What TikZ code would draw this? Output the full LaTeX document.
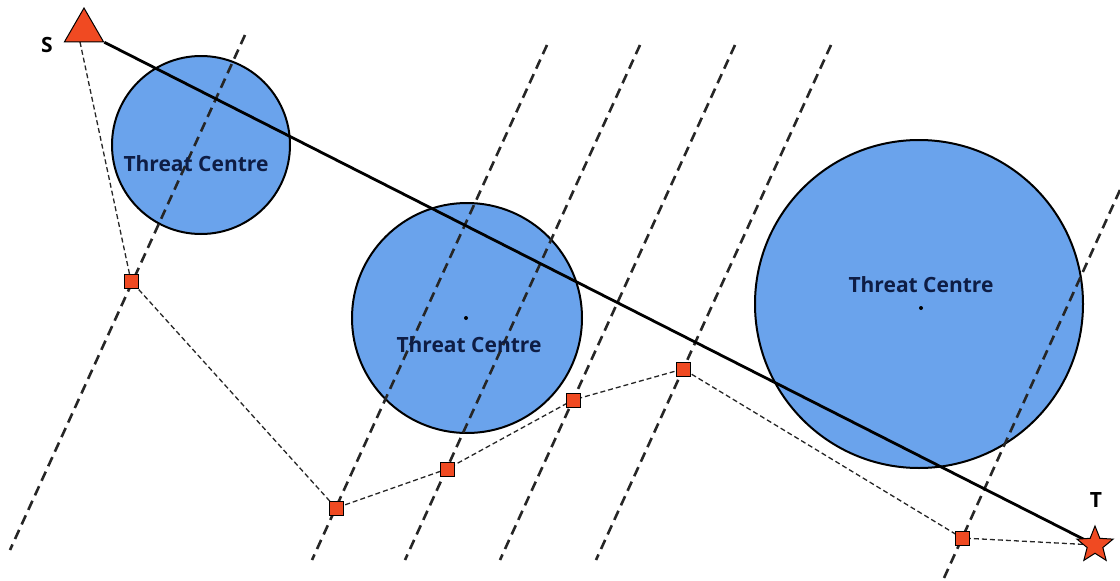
\documentclass[tikz,border=0pt]{standalone}
\usepackage{fontspec}
\setmainfont{Open Sans}
\usetikzlibrary{shapes.geometric}
\pgfdeclarelayer{bottom}
\pgfdeclarelayer{middle}
\pgfsetlayers{bottom,middle,main}
\definecolor{threatblue}{HTML}{6AA3EC}
\definecolor{markred}{HTML}{F04A22}
\definecolor{navytext}{HTML}{0E1D45}
\tikzset{
  threat/.style={circle, draw=black, line width=2pt, fill=threatblue, inner sep=0pt},
  threatlabel/.style={font=\fontsize{21}{23}\selectfont\bfseries, text=navytext, inner sep=0pt},
  guide/.style={draw=black!85, line width=2.6pt, dash pattern=on 10pt off 6pt},
  route/.style={draw=black!85, line width=1.3pt, dash pattern=on 5pt off 3pt},
  mainline/.style={draw=black, line width=2.8pt},
  waypt/.style={rectangle, draw=black, line width=1pt, fill=markred, minimum size=14pt, inner sep=0pt},
  startmark/.style={regular polygon, regular polygon sides=3, draw=black, line width=1pt, fill=markred, minimum size=45pt, inner sep=0pt},
  goalmark/.style={star, star points=5, star point ratio=2.3, draw=black, line width=1pt, fill=markred, minimum size=38pt, inner sep=0pt},
  endlabel/.style={font=\fontsize{21}{23}\selectfont\bfseries, text=black, inner sep=0pt},
  cdot/.style={circle, fill=black, minimum size=4pt, inner sep=0pt}
}
\begin{document}
\begin{tikzpicture}[x=1pt, y=-1pt]
\useasboundingbox (0,0) rectangle (1120,581);
% markers (main layer, on top)
\node[startmark] (S) at (84,30.5) {};
\node[goalmark] (T) at (1095,545) {};
\node[endlabel] (Sl) at (47,45) {S};
\node[endlabel] (Tl) at (1096,500) {T};
\node[waypt] (w1) at (131,281) {};
\node[waypt] (w2) at (336,508) {};
\node[waypt] (w3) at (447,469) {};
\node[waypt] (w4) at (573,400) {};
\node[waypt] (w5) at (683,369) {};
\node[waypt] (w6) at (962,538) {};
% route, guides and main line behind the markers
\begin{pgfonlayer}{middle}
  \coordinate (g1a) at (245,35);  \coordinate (g1b) at (10,550);
  \coordinate (g2a) at (547,45);  \coordinate (g2b) at (312,560);
  \coordinate (g3a) at (640,45);  \coordinate (g3b) at (405,560);
  \coordinate (g4a) at (735,45);  \coordinate (g4b) at (500,560);
  \coordinate (g5a) at (831,45);  \coordinate (g5b) at (596,560);
  \coordinate (g6a) at (1120,190); \coordinate (g6b) at (944,578);
  \draw[guide] (g1a) -- (g1b);
  \draw[guide] (g2a) -- (g2b);
  \draw[guide] (g3a) -- (g3b);
  \draw[guide] (g4a) -- (g4b);
  \draw[guide] (g5a) -- (g5b);
  \draw[guide] (g6a) -- (g6b);
  \coordinate (s0) at (80,42);
  \draw[route] (s0) -- (w1.center) -- (w2.center) -- (w3.center) -- (w4.center) -- (w5.center) -- (w6.center) -- (T.center);
  \draw[mainline] (S.corner 3) -- (T.center);
  \node[threatlabel] (t1) at (196,164) {Threat Centre};
  \node[threatlabel] (t2) at (469,345) {Threat Centre};
  \node[threatlabel] (t3) at (921,285) {Threat Centre};
\end{pgfonlayer}
% threat circles at the back
\begin{pgfonlayer}{bottom}
  \node[threat, minimum size=178pt] (c1) at (201,145) {};
  \node[threat, minimum size=230pt] (c2) at (467,318) {};
  \node[threat, minimum size=328pt] (c3) at (919,304) {};
  \node[cdot] (d2) at (466,318) {};
  \node[cdot] (d3) at (921,308) {};
\end{pgfonlayer}
\end{tikzpicture}
\end{document}
